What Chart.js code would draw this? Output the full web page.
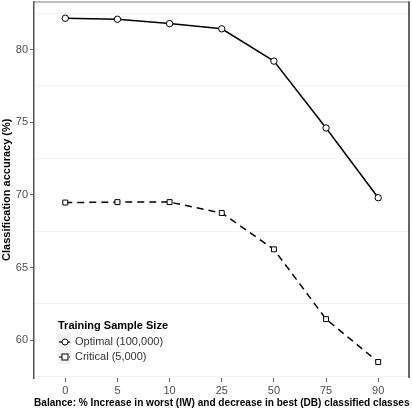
<!DOCTYPE html>
<html>
<head>
<meta charset="utf-8">
<script src="https://cdn.jsdelivr.net/npm/chart.js@4/dist/chart.umd.min.js"></script>
<style>
html,body{margin:0;padding:0;background:#fff;}
#wrap{width:412px;height:410px;}
</style>
</head>
<body>
<div id="wrap"><canvas id="c" width="412" height="410"></canvas></div>
<script>
const categories = ['0', '5', '10', '25', '50', '75', '90'];
const optimalValues = [82.15, 82.08, 81.78, 81.42, 79.2, 74.6, 69.8];
const criticalValues = [69.47, 69.5, 69.5, 68.75, 66.25, 61.45, 58.5];
const seriesNames = ['Optimal (100,000)', 'Critical (5,000)'];
const legendTitle = 'Training Sample Size';
const xTitle = 'Balance: % Increase in worst (IW) and decrease in best (DB) classified classes';
const yTitle = 'Classification accuracy (%)';

const toPoints = arr => arr.map((v, i) => ({x: i, y: v}));

const FONT = "'Liberation Sans', Arial, sans-serif";

const borderPlugin = {
  id: 'panelBorder',
  afterDraw(chart) {
    const {ctx, chartArea: a} = chart;
    ctx.save();
    ctx.strokeStyle = '#808080';
    ctx.lineWidth = 1;
    ctx.beginPath();
    ctx.moveTo(a.left, a.top + 0.5);
    ctx.lineTo(a.right, a.top + 0.5);
    ctx.stroke();
    ctx.strokeStyle = '#333';
    ctx.lineWidth = 1.5;
    ctx.beginPath();
    ctx.moveTo(a.right - 0.5, a.top);
    ctx.lineTo(a.right - 0.5, a.bottom);
    ctx.stroke();
    ctx.restore();
  }
};

const legendPlugin = {
  id: 'innerLegend',
  afterDatasetsDraw(chart) {
    const {ctx} = chart;
    const x0 = 58, yTitleY = 326, rowH = 15;
    ctx.save();
    ctx.fillStyle = '#000';
    ctx.font = 'bold 11px ' + FONT;
    ctx.textBaseline = 'middle';
    ctx.textAlign = 'left';
    ctx.fillText(legendTitle, x0, yTitleY);
    ctx.fillStyle = '#f2f2f2';
    ctx.fillRect(x0, yTitleY + 8, 13, rowH * 2);
    chart.data.datasets.forEach((ds, i) => {
      const cy = yTitleY + 16 + i * rowH;
      ctx.strokeStyle = '#000';
      ctx.lineWidth = 1.2;
      ctx.setLineDash(ds.borderDash ? [3, 2] : []);
      ctx.beginPath();
      ctx.moveTo(x0 + 1, cy);
      ctx.lineTo(x0 + 12, cy);
      ctx.stroke();
      ctx.setLineDash([]);
      ctx.fillStyle = '#fff';
      ctx.lineWidth = 1;
      if (ds.pointStyle === 'rect') {
        ctx.fillRect(x0 + 4, cy - 3, 6, 6);
        ctx.strokeRect(x0 + 4, cy - 3, 6, 6);
      } else {
        ctx.beginPath();
        ctx.arc(x0 + 7, cy, 3, 0, Math.PI * 2);
        ctx.fill();
        ctx.stroke();
      }
      ctx.fillStyle = '#333';
      ctx.font = '11px ' + FONT;
      ctx.fillText(ds.label, x0 + 17, cy);
    });
    ctx.restore();
  }
};

new Chart(document.getElementById('c'), {
  type: 'line',
  data: {
    datasets: [
      {
        label: seriesNames[0],
        data: toPoints(optimalValues),
        borderColor: '#000',
        borderWidth: 1.5,
        pointStyle: 'circle',
        pointRadius: 3.2,
        pointBackgroundColor: '#fff',
        pointBorderColor: '#000',
        pointBorderWidth: 1,
        tension: 0
      },
      {
        label: seriesNames[1],
        data: toPoints(criticalValues),
        borderColor: '#000',
        borderWidth: 1.5,
        borderDash: [7, 5],
        pointStyle: 'rect',
        pointRadius: 3.5,
        pointBackgroundColor: '#fff',
        pointBorderColor: '#000',
        pointBorderWidth: 1,
        tension: 0
      }
    ]
  },
  options: {
    responsive: false,
    animation: false,
    devicePixelRatio: 1,
    layout: {autoPadding: false, padding: {top: 1.5, right: 2.5, left: 0, bottom: 0}},
    plugins: {legend: {display: false}, tooltip: {enabled: false}},
    scales: {
      x: {
        type: 'linear',
        min: -0.6,
        max: 6.6,
        afterFit(s) { s.height = 32; s.paddingLeft = 0; s.paddingRight = 0; },
        afterBuildTicks(s) { s.ticks = categories.map((c, i) => ({value: i})); },
        ticks: {
          callback: (v) => categories[v],
          color: '#4d4d4d',
          font: {family: FONT, size: 11},
          padding: 2,
          autoSkip: false,
          maxRotation: 0
        },
        grid: {
          color: 'rgba(0,0,0,0)',
          tickColor: '#666',
          tickLength: 4,
          drawOnChartArea: false
        },
        border: {display: false},
        title: {
          display: true,
          text: xTitle,
          color: '#000',
          font: {family: FONT, size: 11, weight: 'bold'},
          padding: {top: 0, bottom: 0}
        }
      },
      y: {
        min: 57.4,
        max: 83.3,
        afterFit(s) { s.width = 34; s.paddingTop = 0; s.paddingBottom = 0; },
        ticks: {
          stepSize: 2.5,
          includeBounds: false,
          callback: (v) => (Math.abs(v % 5) < 1e-6 ? String(v) : ''),
          color: '#4d4d4d',
          font: {family: FONT, size: 11},
          padding: 2
        },
        grid: {
          color: (ctx) => (ctx.tick && Math.abs(ctx.tick.value % 5) > 1e-6 ? '#f3f3f3' : 'rgba(0,0,0,0)'),
          tickColor: (ctx) => (ctx.tick && Math.abs(ctx.tick.value % 5) > 1e-6 ? 'rgba(0,0,0,0)' : '#666'),
          tickLength: 4,
          lineWidth: 1
        },
        border: {display: true, color: '#555', width: 1.5},
        title: {
          display: true,
          text: yTitle,
          color: '#000',
          font: {family: FONT, size: 11, weight: 'bold'},
          padding: {top: 0, bottom: 0}
        }
      }
    }
  },
  plugins: [borderPlugin, legendPlugin]
});
</script>
</body>
</html>
